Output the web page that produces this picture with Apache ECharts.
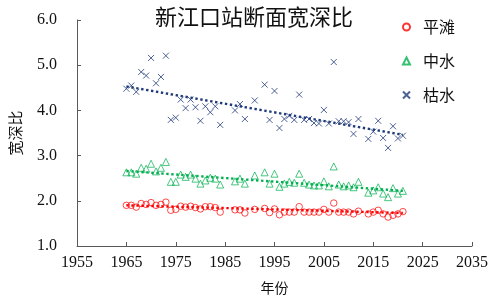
<!DOCTYPE html>
<html>
<head>
<meta charset="utf-8">
<script src="https://cdn.jsdelivr.net/npm/echarts@6/dist/echarts.min.js"></script>
<style>
  html, body { margin: 0; padding: 0; background: #fff; }
  #main { width: 496px; height: 300px; }
</style>
</head>
<body>
<div id="main"></div>
<script>
// 年份（缺测年份不画）
const years = [1965, 1966, 1967, 1968, 1969, 1970, 1971, 1972, 1973, 1974, 1975, 1976, 1977, 1978, 1979, 1980, 1981, 1982, 1983, 1984,
  1987, 1988, 1989, 1991,
  1993, 1994, 1995, 1996, 1997, 1998, 1999, 2000, 2001, 2002, 2003, 2004, 2005, 2006, 2007, 2008, 2009, 2010, 2011, 2012,
  2014, 2015, 2016, 2017, 2018, 2019, 2020, 2021];

const pingtan = [1.90, 1.90, 1.86, 1.94, 1.92, 1.96, 1.90, 1.92, 1.97, 1.79, 1.81, 1.88, 1.86, 1.88, 1.85, 1.82, 1.87, 1.87, 1.85, 1.75,
  1.80, 1.80, 1.73, 1.81,
  1.83, 1.74, 1.82, 1.69, 1.75, 1.75, 1.75, 1.87, 1.75, 1.75, 1.75, 1.75, 1.81, 1.75, 1.95, 1.75, 1.75, 1.75, 1.71, 1.77,
  1.71, 1.75, 1.79, 1.71, 1.64, 1.68, 1.71, 1.76];

const zhongshui = [2.63, 2.63, 2.60, 2.73, 2.71, 2.82, 2.65, 2.73, 2.86, 2.42, 2.42, 2.58, 2.53, 2.58, 2.49, 2.38, 2.45, 2.51, 2.49, 2.36,
  2.43, 2.49, 2.38, 2.56,
  2.63, 2.38, 2.60, 2.31, 2.38, 2.42, 2.40, 2.60, 2.40, 2.36, 2.34, 2.34, 2.43, 2.32, 2.76, 2.36, 2.32, 2.34, 2.30, 2.42,
  2.18, 2.23, 2.30, 2.16, 2.08, 2.28, 2.16, 2.22];

const kushui = [4.48, 4.55, 4.41, 4.85, 4.77, 5.16, 4.60, 4.74, 5.21, 3.79, 3.84, 4.24, 4.05, 4.24, 4.07, 3.77, 4.09, 3.96, 4.09, 3.68,
  4.00, 4.14, 3.81, 4.22,
  4.57, 3.79, 4.43, 3.61, 3.81, 3.88, 3.79, 4.35, 3.79, 3.81, 3.72, 3.71, 4.01, 3.71, 5.07, 3.76, 3.76, 3.74, 3.48, 3.81,
  3.37, 3.53, 3.77, 3.39, 3.17, 3.65, 3.38, 3.44];

// 趋势线两端
const trendYears = [1965, 2021];
const pingtanTrend = [1.90, 1.73];
const zhongshuiTrend = [2.66, 2.22];
const kushuiTrend = [4.53, 3.46];

const RED = '#ff0000';
const GREEN = '#00b050';
const NAVY = '#1f3a7a';
const CROSS = 'path://M0,0L10,10M10,0L0,10';
const numFont = '"Liberation Serif", "DejaVu Serif", serif';
const cjkFont = '"Noto Sans CJK SC", sans-serif';

function pairs(xs, ys) {
  return xs.map((x, i) => [x, ys[i]]);
}

function trendSeries(name, xs, ys, color) {
  return {
    name: name,
    type: 'line',
    data: pairs(xs, ys),
    symbol: 'none',
    silent: true,
    z: 1,
    lineStyle: { color: color, width: 2.4, type: [2.4, 2.6] }
  };
}

const chart = echarts.init(document.getElementById('main'));
const option = {
  animation: false,
  title: {
    text: '新江口站断面宽深比',
    left: 254,
    textAlign: 'center',
    top: 6,
    padding: 0,
    textStyle: { fontFamily: cjkFont, fontSize: 22, fontWeight: 'normal', color: '#111' }
  },
  legend: {
    data: ['平滩', '中水', '枯水'],
    orient: 'vertical',
    left: 397,
    top: 14,
    itemWidth: 7,
    itemHeight: 7,
    itemGap: 18,
    textStyle: { fontFamily: cjkFont, fontSize: 16, color: '#111', padding: [0, 0, 0, 8] }
  },
  grid: {
    left: 74,
    top: 20,
    right: 24,
    bottom: 53
  },
  xAxis: {
    type: 'value',
    min: 1955,
    max: 2035,
    interval: 10,
    name: '年份',
    nameLocation: 'middle',
    nameGap: 35,
    nameTextStyle: { fontFamily: cjkFont, fontSize: 14, color: '#111' },
    splitLine: { show: false },
    axisLine: { lineStyle: { color: '#595959', width: 1 } },
    axisTick: { inside: true, length: 4, lineStyle: { color: '#595959' } },
    axisLabel: { fontFamily: numFont, fontSize: 16, color: '#111', margin: 9, formatter: v => String(v) }
  },
  yAxis: {
    type: 'value',
    min: 1,
    max: 6,
    interval: 1,
    name: '宽深比',
    nameLocation: 'middle',
    nameRotate: 90,
    nameGap: 54,
    nameTextStyle: { fontFamily: cjkFont, fontSize: 15, color: '#111' },
    splitLine: { show: false },
    axisLine: { show: true, lineStyle: { color: '#595959', width: 1 } },
    axisTick: { show: true, inside: true, length: 4, lineStyle: { color: '#595959' } },
    axisLabel: {
      fontFamily: numFont, fontSize: 16, color: '#111', margin: 20,
      formatter: v => v.toFixed(1)
    }
  },
  series: [
    {
      name: '平滩',
      type: 'scatter',
      data: pairs(years, pingtan),
      symbol: 'circle',
      symbolSize: 6.5,
      z: 3,
      itemStyle: { color: 'rgba(255,255,255,0)', borderColor: RED, borderWidth: 0.9 }
    },
    {
      name: '中水',
      type: 'scatter',
      data: pairs(years, zhongshui),
      symbol: 'triangle',
      symbolSize: 7,
      z: 3,
      itemStyle: { color: 'rgba(255,255,255,0)', borderColor: GREEN, borderWidth: 0.9 }
    },
    {
      name: '枯水',
      type: 'scatter',
      data: pairs(years, kushui),
      symbol: CROSS,
      symbolSize: 6,
      z: 3,
      itemStyle: { color: 'rgba(0,0,0,0)', borderColor: NAVY, borderWidth: 1 }
    },
    trendSeries('平滩趋势', trendYears, pingtanTrend, RED),
    trendSeries('中水趋势', trendYears, zhongshuiTrend, GREEN),
    trendSeries('枯水趋势', trendYears, kushuiTrend, NAVY)
  ]
};
chart.setOption(option);
</script>
</body>
</html>
